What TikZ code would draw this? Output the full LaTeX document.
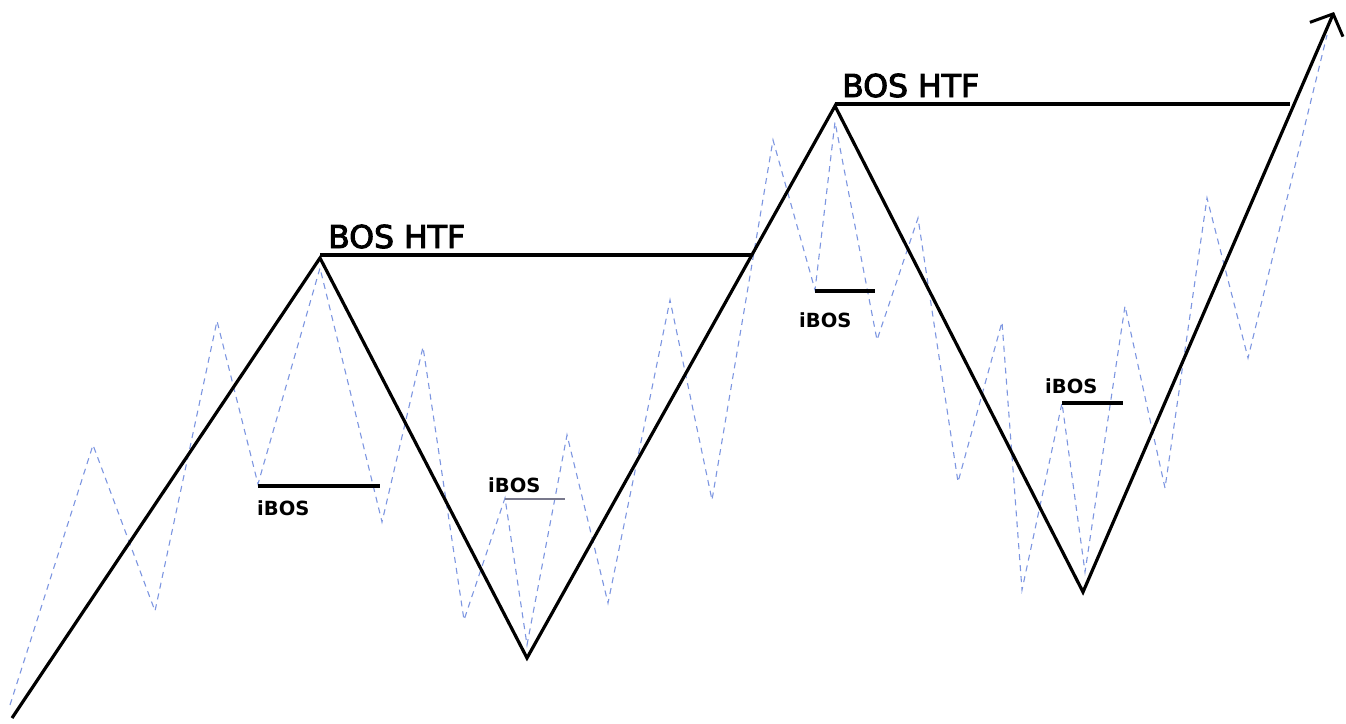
\documentclass[tikz,border=0pt]{standalone}
\usepackage{fontspec}
\setmainfont{DejaVu Sans}
\newfontfamily\htffont{DejaVu Sans}[FakeBold=3]
\newfontfamily\ibosfont{DejaVu Sans Bold}
\usetikzlibrary{arrows.meta}
\begin{document}
\begin{tikzpicture}[x=1pt,y=-1pt,
  trend/.style={line width=3.2pt, line join=miter},
  wave/.style={draw={rgb,255:red,125;green,150;blue,225}, line width=1.1pt, dash pattern=on 6pt off 5pt},
  level/.style={line width=3.2pt},
  glevel/.style={line width=2.2pt, draw={rgb,255:red,120;green,120;blue,140}},
  htf/.style={font=\htffont\fontsize{31.5}{31.5}\selectfont, anchor=base west, inner sep=0pt},
  ibos/.style={font=\ibosfont\fontsize{19.5}{19.5}\selectfont, anchor=base west, inner sep=0pt}]
\useasboundingbox (0,0) rectangle (1346,723);
% main trend vertices
\coordinate (t0) at (12,718);
\coordinate (t1) at (320,258);
\coordinate (t2) at (527,658);
\coordinate (t3) at (835,106);
\coordinate (t4) at (1083,592);
\coordinate (t5) at (1334,12);
% dashed wave vertices
\coordinate (w0) at (10,705);
\coordinate (w1) at (93,445);
\coordinate (w2) at (155,611);
\coordinate (w3) at (217,321);
\coordinate (w4) at (258,484);
\coordinate (w5) at (320,268);
\coordinate (w6) at (382,522);
\coordinate (w7) at (423,347);
\coordinate (w8) at (464,620);
\coordinate (w9) at (505,498);
\coordinate (w10) at (527,645);
\coordinate (w11) at (567,435);
\coordinate (w12) at (608,603);
\coordinate (w13) at (670,300);
\coordinate (w14) at (712,500);
\coordinate (w15) at (773,140);
\coordinate (w16) at (815,290);
\coordinate (w17) at (835,122);
\coordinate (w18) at (877,340);
\coordinate (w19) at (918,218);
\coordinate (w20) at (958,482);
\coordinate (w21) at (1002,322);
\coordinate (w22) at (1022,590);
\coordinate (w23) at (1062,403);
\coordinate (w24) at (1085,572);
\coordinate (w25) at (1125,306);
\coordinate (w26) at (1165,488);
\coordinate (w27) at (1207,198);
\coordinate (w28) at (1248,358);
\coordinate (w29) at (1327,35);
\draw[wave] (w0)--(w1)--(w2)--(w3)--(w4)--(w5)--(w6)--(w7)--(w8)--(w9)--(w10)--(w11)--(w12)--(w13)--(w14)--(w15)--(w16)--(w17)--(w18)--(w19)--(w20)--(w21)--(w22)--(w23)--(w24)--(w25)--(w26)--(w27)--(w28)--(w29);
% BOS HTF levels
\coordinate (b1s) at (320,255);
\coordinate (b1e) at (752,255);
\coordinate (b2s) at (835,104);
\coordinate (b2e) at (1290,104);
\draw[level] (b1s) -- (b1e);
\draw[level] (b2s) -- (b2e);
\node[htf] (h1) at (328,248) {BOS HTF};
\node[htf] (h2) at (842,97) {BOS HTF};
% iBOS levels
\coordinate (i1a) at (258,486); \coordinate (i1b) at (380,486);
\coordinate (i2a) at (505,499); \coordinate (i2b) at (565,499);
\coordinate (i3a) at (815,291); \coordinate (i3b) at (875,291);
\coordinate (i4a) at (1062,403); \coordinate (i4b) at (1123,403);
\draw[level] (i1a)--(i1b);
\draw[glevel] (i2a)--(i2b);
\draw[level] (i3a)--(i3b);
\draw[level] (i4a)--(i4b);
\node[ibos] (l1) at (257,515) {iBOS};
\node[ibos] (l2) at (488,492) {iBOS};
\node[ibos] (l3) at (799,327) {iBOS};
\node[ibos] (l4) at (1045,393) {iBOS};
% main trend
\draw[trend, -{Straight Barb[length=17pt,width=36pt,line width=3pt]}] (t0)--(t1)--(t2)--(t3)--(t4)--(t5);
\end{tikzpicture}
\end{document}
